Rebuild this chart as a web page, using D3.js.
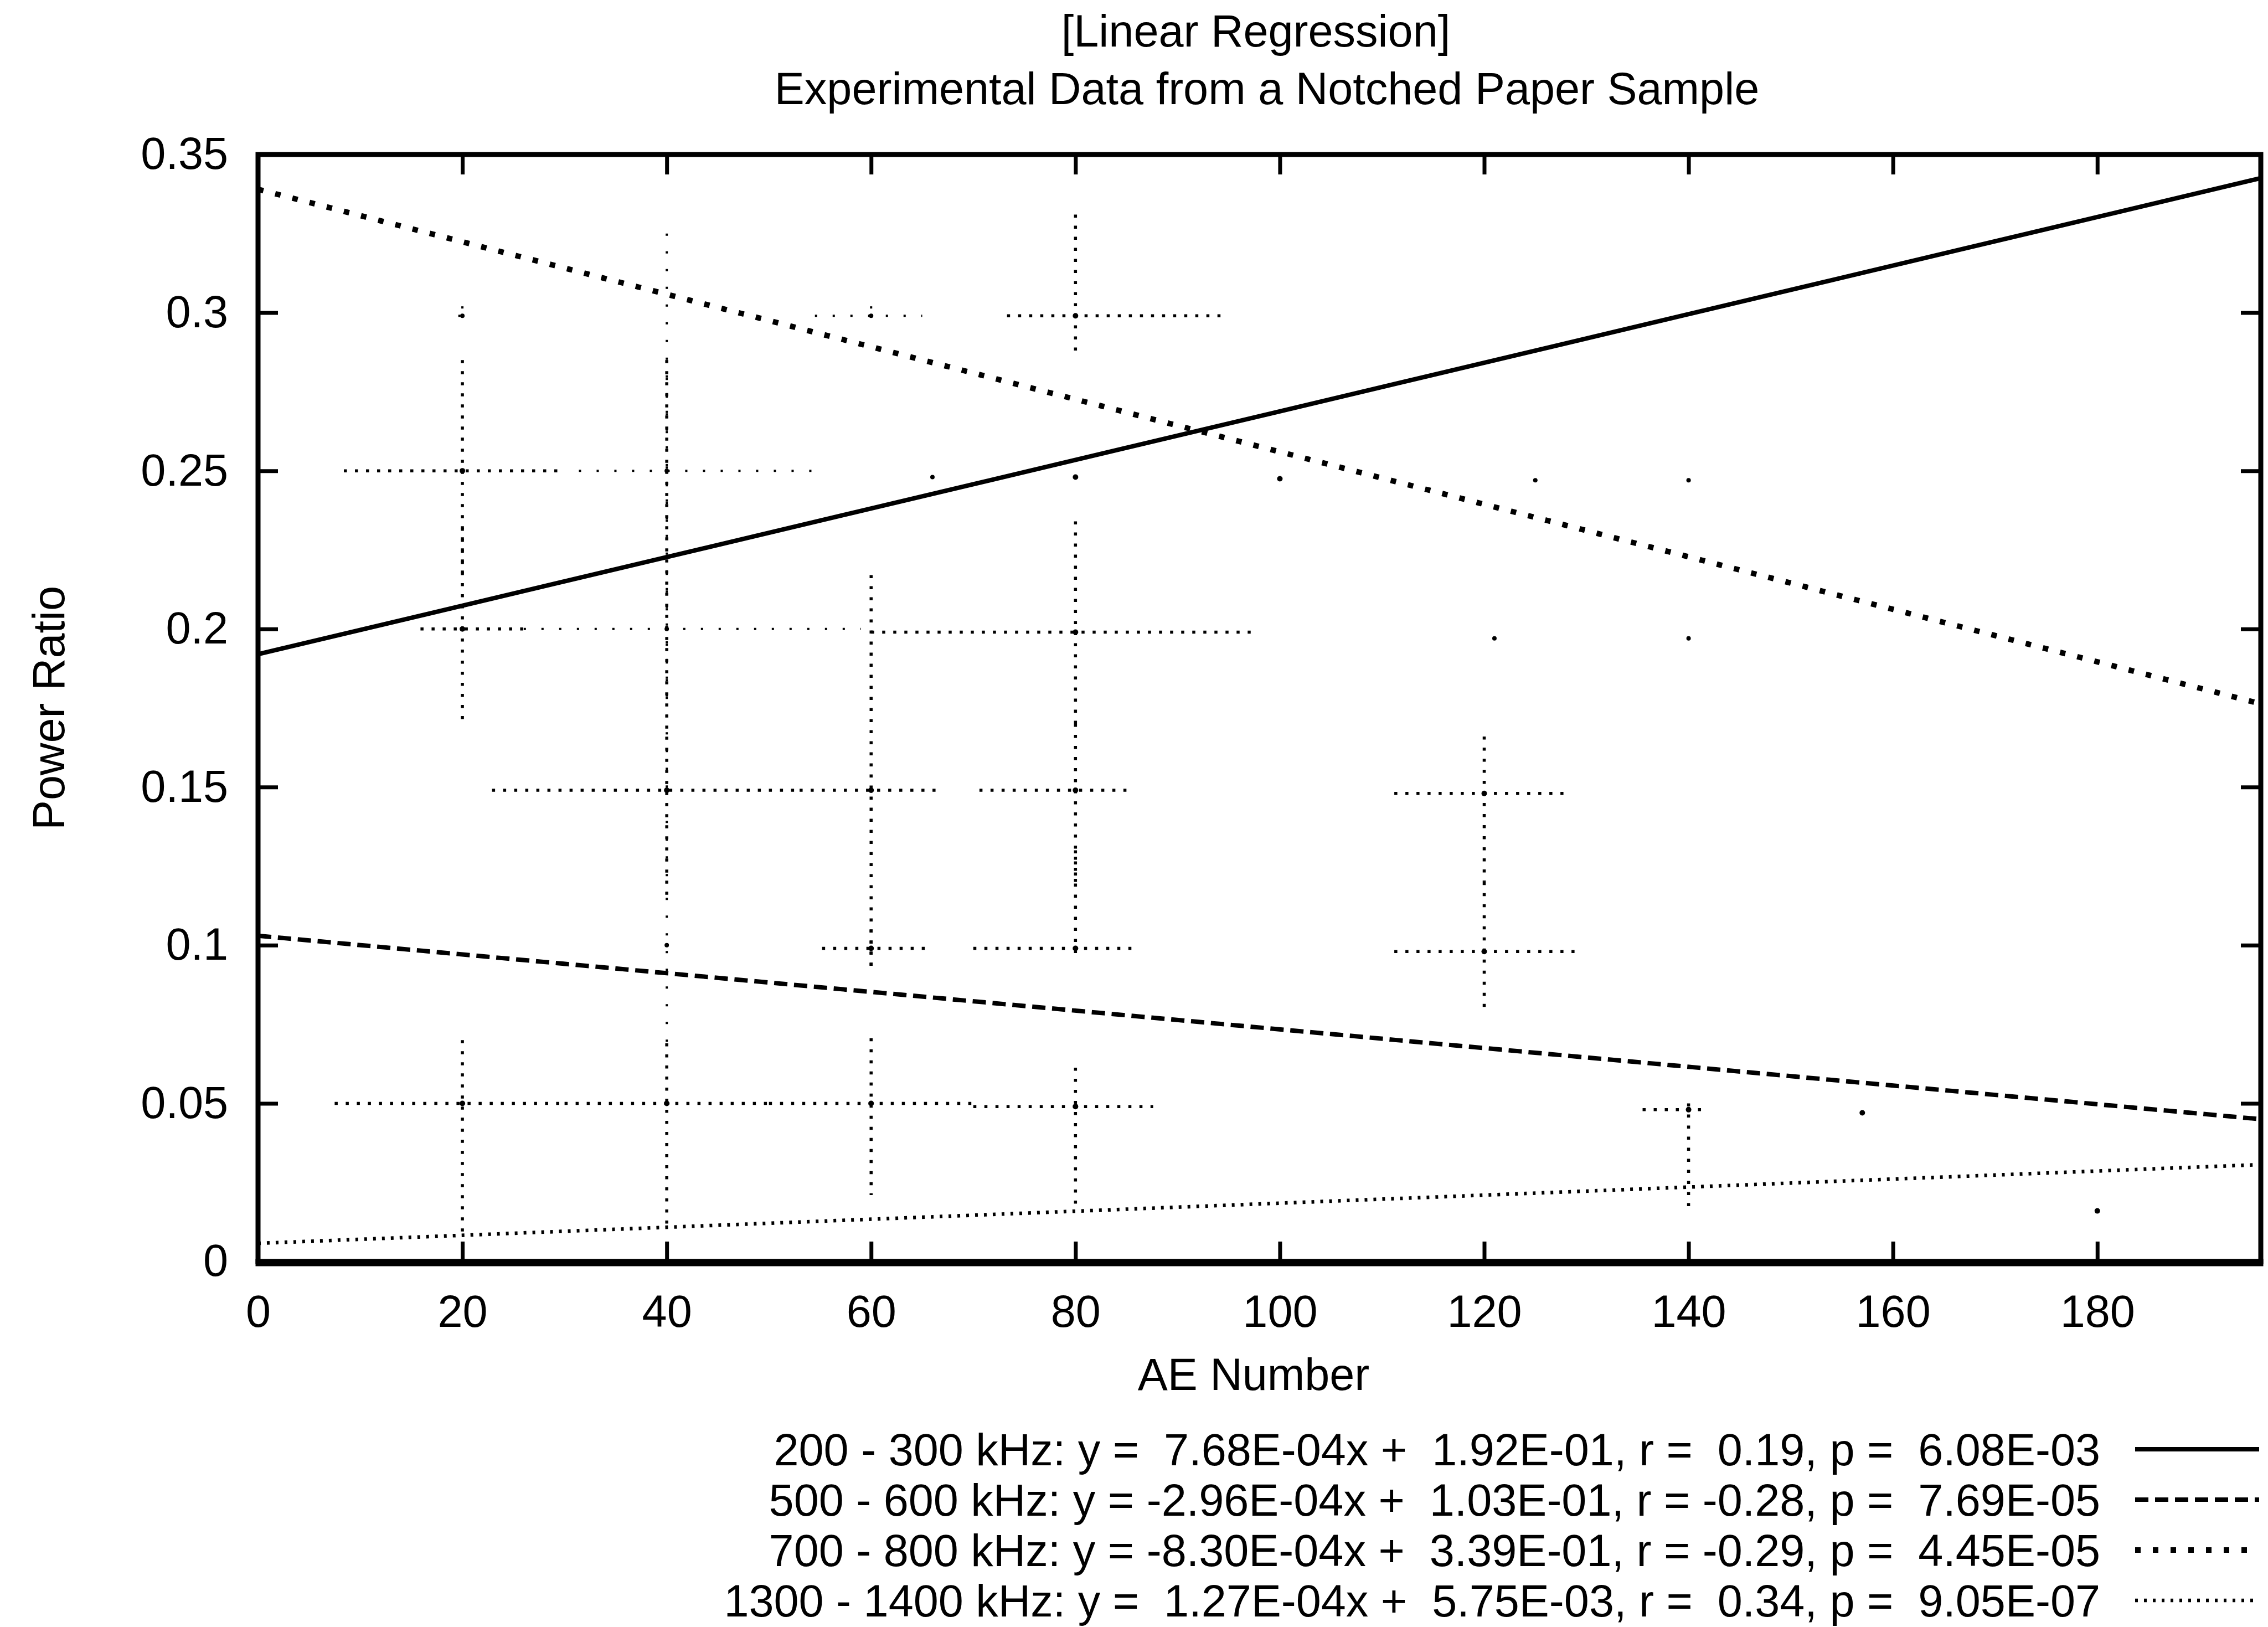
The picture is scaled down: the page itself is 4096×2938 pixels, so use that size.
<!DOCTYPE html>
<html>
<head>
<meta charset="utf-8">
<script src="https://cdn.jsdelivr.net/npm/d3@7"></script>
<style>
  html, body { margin: 0; padding: 0; background: #fff; }
  svg { display: block; }
  text { font-family: "Liberation Sans", Arial, Helvetica, sans-serif; fill: #000; }
</style>
</head>
<body>
<svg id="chart" width="4096" height="2938"></svg>
<script>
// ---- Linear fits for each frequency band ----
const bandNames  = ["200 - 300 kHz", "500 - 600 kHz", "700 - 800 kHz", "1300 - 1400 kHz"];
const slopes     = [7.68e-4, -2.96e-4, -8.30e-4, 1.27e-4];
const intercepts = [1.92e-1, 1.03e-1, 3.39e-1, 5.75e-3];
const rValues    = [0.19, -0.28, -0.29, 0.34];
const pValues    = [6.08e-3, 7.69e-5, 4.45e-5, 9.05e-7];

// ---- Axes ----
const xDomain = [0, 196];
const yDomain = [0, 0.35];
const xTicks = [0, 20, 40, 60, 80, 100, 120, 140, 160, 180];
const yTicks = [0, 0.05, 0.1, 0.15, 0.2, 0.25, 0.3, 0.35];

// ---- Binned measurements: [AE number, power ratio, x low, x high, y low, y high] ----
const points200 = [
  [20, 0.250,  8.4, 29.5, 0.215, 0.285],
  [20, 0.200, 15.9, 26.0, 0.169, 0.232],
  [80, 0.199, 60.0, 97.5, 0.168, 0.234],
  [80, 0.299, 73.3, 94.7, 0.286, 0.331],
  [80, 0.248, 80, 80, 0.248, 0.248],
  [100, 0.2475, 100, 100, 0.2475, 0.2475]
];
const points500 = [
  [40, 0.149, 22.9, 53.0, 0.115, 0.285],
  [60, 0.149, 53.0, 66.7, 0.093, 0.217],
  [60, 0.099, 55.2, 66.0, 0.093, 0.105],
  [80, 0.149, 70.6, 85.0, 0.120, 0.170],
  [80, 0.099, 70.0, 85.6, 0.095, 0.130],
  [120, 0.148, 111.2, 128.4, 0.120, 0.166],
  [120, 0.098, 111.2, 129.3, 0.080, 0.120]
];
const points700 = [
  [40, 0.250, 31.4, 54.5, 0.175, 0.325],
  [40, 0.200, 26.0, 59.0, 0.115, 0.285],
  [40, 0.100, 40, 40, 0.069, 0.115],
  [60, 0.299, 54.5, 65.0, 0.297, 0.302],
  [20, 0.299, 19.6, 20.4, 0.297, 0.302],
  [66, 0.248, 66, 66, 0.248, 0.248],
  [125, 0.247, 125, 125, 0.247, 0.247],
  [140, 0.247, 140, 140, 0.247, 0.247],
  [121, 0.197, 121, 121, 0.197, 0.197],
  [140, 0.197, 140, 140, 0.197, 0.197]
];
const points1300 = [
  [20, 0.050,  7.5, 30.0, 0.008, 0.070],
  [40, 0.050, 30.0, 50.0, 0.011, 0.069],
  [60, 0.050, 50.0, 70.0, 0.021, 0.0706],
  [80, 0.049, 70.0, 87.6, 0.0174, 0.0613],
  [140, 0.048, 135.5, 142.0, 0.017, 0.050],
  [157, 0.047, 157, 157, 0.047, 0.047],
  [180, 0.016, 180, 180, 0.016, 0.016]
];
const pointSets = [points200, points500, points700, points1300];

// ---- Layout ----
const W = 4096, H = 2938;
const plot = { left: 466, right: 4083, top: 279, bottom: 2278 };
const FS = 81;

const svg = d3.select("#chart");
svg.append("rect").attr("width", W).attr("height", H).attr("fill", "#fff");

const x = d3.scaleLinear().domain(xDomain).range([plot.left, plot.right]);
const y = d3.scaleLinear().domain(yDomain).range([plot.bottom, plot.top]);

// Styles of the fit lines (solid, dashed, dotted, fine dotted)
const fitStyles = [
  { w: 8, dash: null },
  { w: 8, dash: "24 12" },
  { w: 10, dash: "10 22" },
  { w: 6.5, dash: "5 11" }
];
// Styles of the error-bar crosses per band
const barStyles = [
  { w: 5.5, dash: "5.5 14.5", r: 5 },
  { w: 5.5, dash: "5.5 14.5", r: 5 },
  { w: 4, dash: "4 28", r: 4 },
  { w: 5.5, dash: "5.5 14.5", r: 5 }
];

svg.append("defs").append("clipPath").attr("id", "plotClip")
  .append("rect")
  .attr("x", plot.left).attr("y", plot.top)
  .attr("width", plot.right - plot.left).attr("height", plot.bottom - plot.top);

const inner = svg.append("g").attr("clip-path", "url(#plotClip)");

// ---- Error-bar crosses ----
pointSets.forEach((pts, i) => {
  const st = barStyles[i];
  const g = inner.append("g").attr("class", "band-" + i)
    .attr("stroke", "#000").attr("stroke-width", st.w)
    .attr("stroke-dasharray", st.dash).attr("fill", "none");
  pts.forEach(p => {
    const [px, py, xlo, xhi, ylo, yhi] = p;
    if (xhi > xlo) {
      g.append("line")
        .attr("x1", x(xlo)).attr("x2", x(xhi))
        .attr("y1", y(py)).attr("y2", y(py));
    }
    if (yhi > ylo) {
      g.append("line")
        .attr("x1", x(px)).attr("x2", x(px))
        .attr("y1", y(yhi)).attr("y2", y(ylo));
    }
    inner.append("circle")
      .attr("cx", x(px)).attr("cy", y(py)).attr("r", st.r)
      .attr("fill", "#000");
  });
});

// ---- Regression lines ----
const fitLine = d3.line().x(d => x(d[0])).y(d => y(d[1]));
slopes.forEach((m, i) => {
  const pts = xDomain.map(v => [v, m * v + intercepts[i]]);
  const st = fitStyles[i];
  inner.append("path")
    .attr("d", fitLine(pts))
    .attr("fill", "none").attr("stroke", "#000")
    .attr("stroke-width", st.w)
    .attr("stroke-dasharray", st.dash);
});

// ---- Frame and ticks (mirrored, pointing inward) ----
const tickLen = 36;
const fmtY = d => String(+d.toFixed(2));

function styleAxis(g) {
  g.select(".domain").remove();
  g.selectAll(".tick line").attr("stroke", "#000").attr("stroke-width", 7);
  g.selectAll(".tick text").attr("font-size", FS).attr("fill", "#000")
    .attr("font-family", "\"Liberation Sans\", Arial, Helvetica, sans-serif");
}

svg.append("g").attr("transform", `translate(0,${plot.bottom})`)
  .call(d3.axisBottom(x).tickValues(xTicks).tickSize(-tickLen).tickPadding(60))
  .call(styleAxis);
svg.append("g").attr("transform", `translate(0,${plot.top})`)
  .call(d3.axisTop(x).tickValues(xTicks).tickSize(-tickLen).tickFormat(""))
  .call(styleAxis);
svg.append("g").attr("transform", `translate(${plot.left},0)`)
  .call(d3.axisLeft(y).tickValues(yTicks).tickSize(-tickLen).tickPadding(54).tickFormat(fmtY))
  .call(styleAxis);
svg.append("g").attr("transform", `translate(${plot.right},0)`)
  .call(d3.axisRight(y).tickValues(yTicks).tickSize(-tickLen).tickFormat(""))
  .call(styleAxis);

svg.append("rect")
  .attr("x", plot.left).attr("y", plot.top)
  .attr("width", plot.right - plot.left).attr("height", plot.bottom - plot.top)
  .attr("fill", "none").attr("stroke", "#000").attr("stroke-width", 9);
svg.append("line")
  .attr("x1", plot.left - 4.5).attr("x2", plot.right + 4.5)
  .attr("y1", plot.bottom + 2).attr("y2", plot.bottom + 2)
  .attr("stroke", "#000").attr("stroke-width", 13);

// ---- Titles and axis labels ----
svg.append("text").attr("x", 2268).attr("y", 84)
  .attr("text-anchor", "middle").attr("font-size", FS).text("[Linear Regression]");
svg.append("text").attr("x", 2288).attr("y", 188)
  .attr("text-anchor", "middle").attr("font-size", FS)
  .text("Experimental Data from a Notched Paper Sample");
svg.append("text").attr("x", 2264).attr("y", 2510)
  .attr("text-anchor", "middle").attr("font-size", FS).text("AE Number");
svg.append("text")
  .attr("transform", `translate(116,${(plot.top + plot.bottom) / 2}) rotate(-90)`)
  .attr("text-anchor", "middle").attr("font-size", FS).text("Power Ratio");

// ---- Legend ----
function sci(v) {
  let e = Math.floor(Math.log10(Math.abs(v)));
  let m = v / Math.pow(10, e);
  if (Math.abs(+m.toFixed(2)) >= 10) { e += 1; m = v / Math.pow(10, e); }
  return m.toFixed(2) + "E" + (e < 0 ? "-" : "+") + String(Math.abs(e)).padStart(2, "0");
}
const pad = s => (s.startsWith("-") ? s : " " + s);

const legend = { textRight: 3793, lineX1: 3856, lineX2: 4080, base0: 2646, step: 91 };
bandNames.forEach((name, i) => {
  const by = legend.base0 + i * legend.step;
  const label = `${name}: y = ${pad(sci(slopes[i]))}x + ${pad(sci(intercepts[i]))}, ` +
                `r = ${pad(rValues[i].toFixed(2))}, p = ${pad(sci(pValues[i]))}`;
  svg.append("text")
    .attr("x", legend.textRight).attr("y", by)
    .attr("text-anchor", "end").attr("font-size", FS)
    .attr("xml:space", "preserve").style("white-space", "pre")
    .text(label);
  const st = fitStyles[i];
  svg.append("line")
    .attr("x1", legend.lineX1).attr("x2", legend.lineX2)
    .attr("y1", by - 29).attr("y2", by - 29)
    .attr("stroke", "#000").attr("stroke-width", st.w)
    .attr("stroke-dasharray", st.dash);
});
</script>
</body>
</html>
